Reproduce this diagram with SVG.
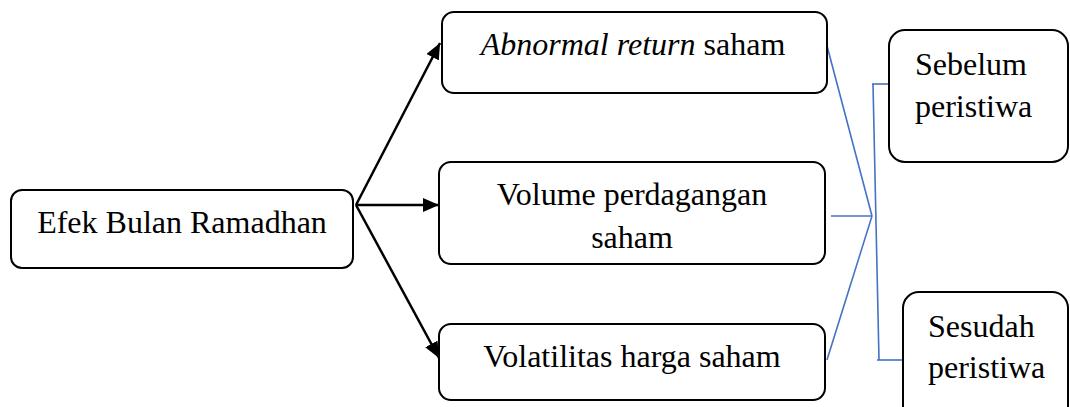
<svg xmlns="http://www.w3.org/2000/svg" width="1070" height="407" viewBox="0 0 1070 407">
<style>
.box{fill:#fff;stroke:#000;stroke-width:2}
.t{font-family:"Liberation Serif","Times New Roman",serif;font-size:32px;fill:#000}
.arr{stroke:#000;stroke-width:2.5;fill:none}
.bl{stroke:#4472C4;stroke-width:1.6;fill:none}
</style>
<defs>
<marker id="ah" viewBox="0 0 16 14" refX="16" refY="7" markerWidth="16" markerHeight="14" markerUnits="userSpaceOnUse" orient="auto">
<path d="M0,0 L16,7 L0,14 z" fill="#000"/>
</marker>
</defs>
<rect width="1070" height="407" fill="#fff"/>
<g id="connectors">
<line class="arr" x1="356" y1="205" x2="440" y2="43" marker-end="url(#ah)"/>
<line class="arr" x1="356" y1="205" x2="439" y2="205" marker-end="url(#ah)"/>
<line class="arr" x1="356" y1="205" x2="439" y2="358" marker-end="url(#ah)"/>
<line class="bl" x1="826" y1="42" x2="872" y2="216"/>
<line class="bl" x1="831" y1="216" x2="872" y2="216"/>
<line class="bl" x1="827" y1="360" x2="872" y2="216"/>
<line class="bl" x1="873" y1="84" x2="879" y2="360"/>
<line class="bl" x1="872" y1="84" x2="889" y2="84"/>
<line class="bl" x1="877" y1="360" x2="903" y2="360"/>
</g>
<g id="efek">
<rect class="box" x="11" y="190" width="342" height="78" rx="11"/>
<text class="t" x="182" y="233" text-anchor="middle">Efek Bulan Ramadhan</text>
</g>
<g id="abnormal">
<rect class="box" x="442" y="12" width="385" height="81" rx="12"/>
<text class="t" x="633" y="55" text-anchor="middle"><tspan font-style="italic">Abnormal return</tspan> saham</text>
</g>
<g id="volume">
<rect class="box" x="439" y="162" width="386" height="102" rx="12"/>
<text class="t" x="632" y="205" text-anchor="middle">Volume perdagangan</text>
<text class="t" x="632" y="248" text-anchor="middle">saham</text>
</g>
<g id="volatilitas">
<rect class="box" x="439" y="324" width="386" height="76" rx="12"/>
<text class="t" x="632" y="367" text-anchor="middle">Volatilitas harga saham</text>
</g>
<g id="sebelum">
<rect class="box" x="889" y="30" width="179" height="132" rx="16"/>
<text class="t" x="915" y="75">Sebelum</text>
<text class="t" x="915" y="117">peristiwa</text>
</g>
<g id="sesudah">
<rect class="box" x="903" y="292" width="165" height="130" rx="16"/>
<text class="t" x="928" y="337">Sesudah</text>
<text class="t" x="928" y="378">peristiwa</text>
</g>
</svg>
